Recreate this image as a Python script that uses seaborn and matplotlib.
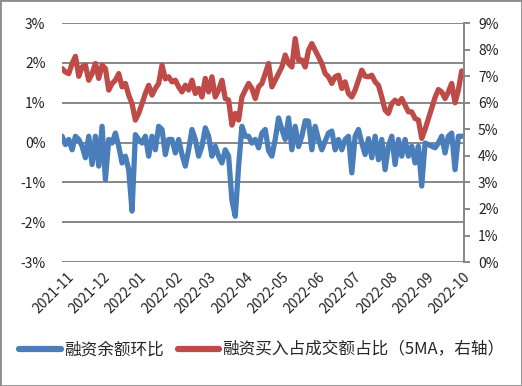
import pandas as pd
import matplotlib
matplotlib.use("Agg")
import matplotlib.pyplot as plt
import matplotlib.dates as mdates
from matplotlib.lines import Line2D
from matplotlib.patches import Rectangle
import seaborn as sns

# trading-day samples, Nov 2021 - Sep 2022
dates = pd.date_range("2021-10-28", "2022-09-30", periods=121)

# 融资余额环比 (%, left axis)
margin_chg = [0.16, -0.05, 0.08, -0.18, 0.16, 0.08, -0.09, -0.38, 0.16, -0.55,
              0.16, -0.59, 0.41, -0.93, 0.08, -0.01, 0.24, -0.09, -0.51, -0.34,
              -0.68, -1.72, 0.20, 0.08, -0.01, 0.16, -0.34, 0.16, -0.18, 0.41,
              0.33, -0.30, 0.08, 0.08, -0.26, 0.08, -0.30, -0.59, -0.18, 0.33,
              0.08, -0.34, -0.09, 0.37, 0.16, -0.34, -0.09, -0.34, -0.51, -0.18,
              -0.34, -1.45, -1.85, -0.60, 0.41, 0.16, 0.16, -0.01, 0.08, -0.13,
              0.24, 0.33, -0.20, -0.34, 0.08, 0.62, 0.33, 0.08, 0.62, -0.18,
              0.41, -0.10, 0.16, 0.55, 0.54, -0.18, 0.41, 0.08, -0.18, 0.04,
              0.24, 0.29, -0.18, 0.08, -0.18, 0.08, 0.16, -0.76, 0.16, 0.33,
              -0.01, -0.30, 0.10, -0.38, 0.16, -0.43, 0.08, -0.68, -0.09, 0.16,
              -0.55, 0.08, -0.34, 0.08, -0.34, -0.09, -0.51, -0.09, -1.09, -0.01,
              -0.05, -0.09, -0.13, -0.01, 0.16, -0.26, 0.16, 0.24, -0.68, 0.16,
              0.16]

# 融资买入占成交额占比 5MA (%, right axis)
buy_ratio = [7.29, 7.16, 7.10, 7.48, 7.75, 7.00, 7.35, 7.42, 6.85, 7.10,
             7.48, 6.92, 7.42, 7.29, 6.48, 6.73, 6.85, 7.10, 6.60, 6.73,
             6.29, 5.97, 5.35, 5.60, 5.97, 6.35, 6.66, 6.29, 6.54, 6.73,
             7.42, 6.90, 6.98, 6.79, 6.85, 6.60, 6.41, 6.66, 6.48, 6.85,
             6.35, 6.54, 6.22, 6.92, 6.41, 6.98, 6.22, 6.48, 6.85, 6.16,
             6.10, 5.16, 5.60, 5.35, 6.22, 6.48, 6.73, 6.54, 6.16, 6.60,
             6.73, 7.10, 7.48, 6.60, 6.85, 7.10, 7.35, 7.80, 7.48, 7.35,
             8.42, 7.61, 7.61, 7.35, 7.98, 8.23, 7.98, 7.73, 7.48, 7.10,
             6.98, 6.73, 6.98, 7.04, 6.54, 6.79, 6.35, 6.22, 6.48, 6.85,
             7.23, 7.00, 6.98, 7.04, 6.79, 6.66, 6.22, 5.72, 5.60, 5.97,
             6.10, 5.97, 6.16, 5.91, 5.66, 5.66, 5.41, 5.35, 4.66, 5.00,
             5.40, 5.80, 6.20, 6.50, 6.41, 6.16, 6.41, 6.73, 6.00, 6.48,
             7.20]

labels = ["融资余额环比", "融资买入占成交额占比（5MA，右轴）"]
blue = "#4a7ebb"
red = "#be4b48"
grey = "#878787"

sns.set_style("white")
plt.rcParams["font.family"] = ["Noto Sans CJK SC", "DejaVu Sans"]

fig = plt.figure(figsize=(5.22, 3.86), dpi=100)
ax = fig.add_axes([0.119, 0.321, 0.770, 0.619])
ax2 = ax.twinx()

sns.lineplot(x=dates, y=margin_chg, ax=ax, color=blue, lw=3.8,
             solid_joinstyle="round", solid_capstyle="round")
sns.lineplot(x=dates, y=buy_ratio, ax=ax2, color=red, lw=3.8,
             solid_joinstyle="round", solid_capstyle="round")
ax.set_xlabel("")
ax.set_ylabel("")
ax2.set_ylabel("")

ax.set_xlim(dates[0], pd.Timestamp("2022-10-02"))
ax.set_ylim(-3, 3)
ax.set_yticks(range(-3, 4))
ax.set_yticklabels([f"{v}%" for v in range(-3, 4)])
ax.yaxis.grid(True, color=grey, lw=1.4)
ax.set_axisbelow(True)
for s in ax.spines.values():
    s.set_visible(False)
ax.tick_params(axis="y", length=0, pad=12, labelsize=10, labelcolor="#222222")

ax.xaxis.set_major_locator(mdates.MonthLocator())
ax.xaxis.set_major_formatter(mdates.DateFormatter("%Y-%m"))
ax.tick_params(axis="x", length=0, pad=6, labelsize=10, labelcolor="#222222")
for t in ax.get_xticklabels():
    t.set_rotation(45)
    t.set_ha("right")
    t.set_rotation_mode("anchor")

ax2.set_ylim(0, 9)
ax2.set_yticks(range(0, 10))
ax2.set_yticklabels([f"{v}%" for v in range(0, 10)])
for k in ["top", "left", "bottom"]:
    ax2.spines[k].set_visible(False)
ax2.spines["right"].set_color(grey)
ax2.spines["right"].set_linewidth(1.4)
ax2.tick_params(axis="y", length=4, width=1.4, color=grey, pad=6,
                labelsize=10, labelcolor="#222222")

handles = [Line2D([], [], color=blue, lw=4.5, solid_capstyle="round"),
           Line2D([], [], color=red, lw=4.5, solid_capstyle="round")]
fig.legend(handles, labels, loc="center", bbox_to_anchor=(0.502, 0.093),
           ncol=2, frameon=False, fontsize=12, handlelength=2.5,
           handletextpad=0.2, columnspacing=0.8)

fig.patches.append(Rectangle((0, 0), 1, 1, transform=fig.transFigure,
                             fill=False, edgecolor="#8c8c8c", lw=2))

fig.savefig("out.png", dpi=100)
